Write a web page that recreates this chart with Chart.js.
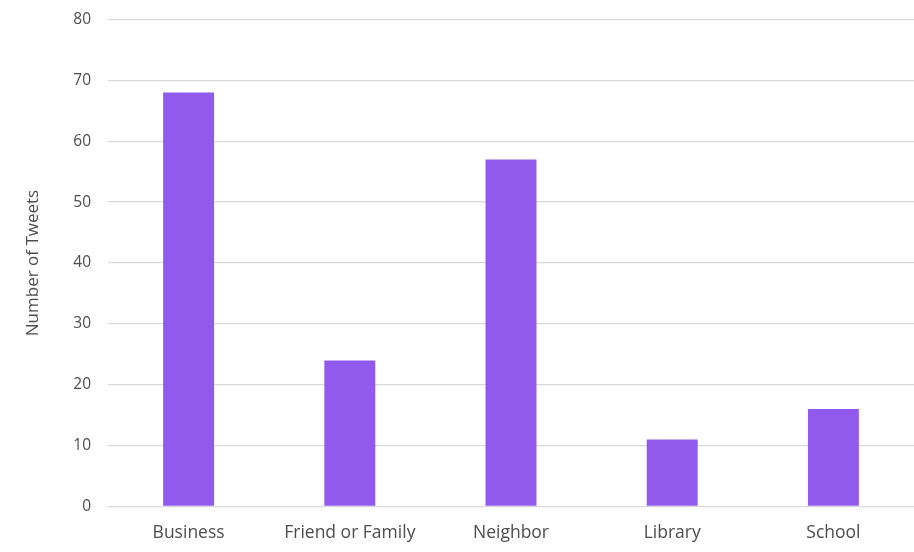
<!DOCTYPE html>
<html>
<head>
<meta charset="utf-8">
<script src="https://cdn.jsdelivr.net/npm/chart.js@4.4.1/dist/chart.umd.min.js"></script>
<style>
  html, body { margin: 0; padding: 0; background: #ffffff; }
  #wrap { width: 914px; height: 552px; }
</style>
</head>
<body>
<div id="wrap"><canvas id="tweets-chart" width="914" height="552"></canvas></div>
<script>
// chart data
const categories = ['Business', 'Friend or Family', 'Neighbor', 'Library', 'School'];
const tweetCounts = [68, 24, 57, 11, 16];
const yTicks = [0, 10, 20, 30, 40, 50, 60, 70, 80];

document.addEventListener('DOMContentLoaded', function () {
    const ctx = document.getElementById('tweets-chart').getContext('2d');

    const tweetsChart = new Chart(ctx, {
        type: 'bar',
        data: {
            labels: categories,
            datasets: [
                {
                    label: 'Number of Tweets',
                    data: tweetCounts,
                    backgroundColor: 'rgb(146, 90, 236)',
                    barPercentage: 0.316,
                    categoryPercentage: 1
                }
            ]
        },
        options: {
            responsive: false,
            animation: false,
            layout: {
                padding: { top: 19.5, left: 23, right: 0, bottom: 0 }
            },
            plugins: {
                legend: { display: false },
                tooltip: { enabled: false }
            },
            scales: {
                x: {
                    grid: { display: false },
                    border: { display: false },
                    ticks: {
                        color: '#4d4d4d',
                        padding: 8,
                        font: { family: 'Open Sans', size: 17.5 }
                    },
                    afterFit: function (scale) {
                        scale.height = 45.5;
                    }
                },
                y: {
                    min: yTicks[0],
                    max: yTicks[yTicks.length - 1],
                    afterBuildTicks: function (scale) {
                        scale.ticks = yTicks.map(v => ({ value: v }));
                    },
                    grid: {
                        color: '#d9d9d9',
                        lineWidth: 1.3,
                        drawTicks: false
                    },
                    border: { display: false },
                    ticks: {
                        color: '#4d4d4d',
                        padding: 17,
                        font: { family: 'Open Sans', size: 15.5 }
                    },
                    title: {
                        display: true,
                        text: 'Number of Tweets',
                        color: '#4d4d4d',
                        padding: { top: 0, bottom: 12 },
                        font: { family: 'Open Sans', size: 17 }
                    },
                    afterFit: function (scale) {
                        scale.width = 85;
                        // let the top tick label sit in the layout padding
                        scale.paddingTop = 0;
                        scale.paddingBottom = 0;
                    }
                }
            }
        }
    });
});
</script>
</body>
</html>
